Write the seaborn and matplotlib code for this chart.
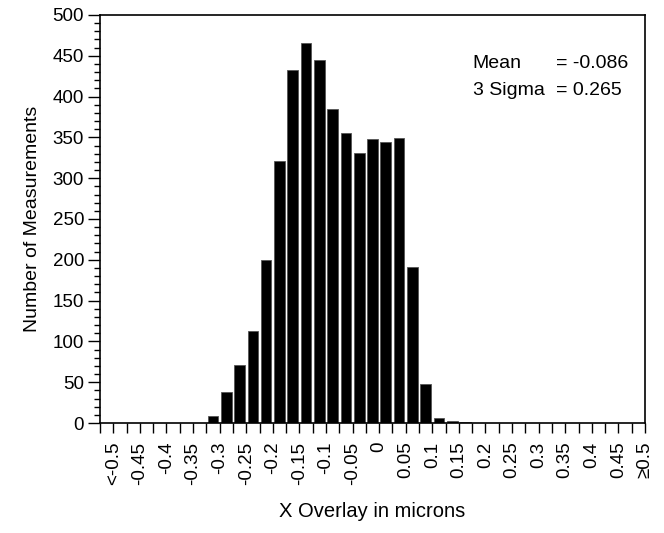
import numpy as np
import pandas as pd
import matplotlib
matplotlib.use("Agg")
import matplotlib.pyplot as plt
from matplotlib.ticker import MultipleLocator, FixedLocator
import seaborn as sns

# ---- data ----
tick_labels = ["<-0.5", "-0.45", "-0.4", "-0.35", "-0.3", "-0.25", "-0.2", "-0.15",
               "-0.1", "-0.05", "0", "0.05", "0.1", "0.15", "0.2", "0.25", "0.3",
               "0.35", "0.4", "0.45", "\u22650.5"]
bin_left = [-0.525, -0.5, -0.475, -0.45, -0.425, -0.4, -0.375, -0.35, -0.325, -0.3,
            -0.275, -0.25, -0.225, -0.2, -0.175, -0.15, -0.125, -0.1, -0.075, -0.05,
            -0.025, 0.0, 0.025, 0.05, 0.075, 0.1, 0.125, 0.15, 0.175, 0.2, 0.225,
            0.25, 0.275, 0.3, 0.325, 0.35, 0.375, 0.4, 0.425, 0.45, 0.475]
counts = [0, 0, 0, 0, 0, 0, 0, 0, 8, 38, 71, 113, 200, 321, 432, 466, 445, 385,
          355, 331, 348, 344, 349, 191, 48, 6, 3, 1, 0, 0, 0, 0, 0, 0, 0, 0, 0,
          0, 0, 0, 0]
stats_names = ["Mean", "3 Sigma"]
stats_values = ["= -0.086", "= 0.265"]

bin_width = 0.025
df = pd.DataFrame({"x": np.array(bin_left) + bin_width / 2, "n": counts})
edges = list(bin_left) + [bin_left[-1] + bin_width]

sns.set_style("ticks")
plt.rcParams["font.family"] = ["Liberation Sans", "DejaVu Sans"]
plt.rcParams["text.color"] = "black"
plt.rcParams["axes.labelcolor"] = "black"
plt.rcParams["xtick.color"] = "black"
plt.rcParams["ytick.color"] = "black"

fig = plt.figure(figsize=(6.64, 5.33), dpi=100)
ax = fig.add_axes([100 / 664, 1 - 423 / 533, 545 / 664, 408 / 533])

sns.histplot(data=df, x="x", weights="n", bins=edges, shrink=0.8,
             color="black", edgecolor="#555555", linewidth=0.6, alpha=1, ax=ax)

ax.set_xlim(edges[0], edges[-1])
ax.set_ylim(0, 500)

# x ticks: every bin edge, labels on every other one
ax.xaxis.set_major_locator(FixedLocator(edges))
xt_labels = []
for i in range(len(edges)):
    xt_labels.append(tick_labels[i // 2] if i % 2 == 1 else "")
ax.set_xticklabels(xt_labels, rotation=90, fontsize=13.5, color="black")
ax.tick_params(axis="x", which="major", length=7.5, width=1, pad=6, direction="out",
               color="black", labelcolor="black")

ax.yaxis.set_major_locator(MultipleLocator(50))
ax.yaxis.set_minor_locator(MultipleLocator(10))
ax.tick_params(axis="y", which="major", length=8.5, width=1, pad=3, labelsize=13.5,
               color="black", labelcolor="black")
ax.tick_params(axis="y", which="minor", length=4, width=1, color="black")

for s in ax.spines.values():
    s.set_visible(True)
    s.set_color("black")
    s.set_linewidth(1.2)

ax.set_xlabel("X Overlay in microns", fontsize=14.5, labelpad=12, color="black")
ax.set_ylabel("Number of Measurements", fontsize=14, labelpad=8, color="black")

ys = [0.882, 0.816]
for name, val, y in zip(stats_names, stats_values, ys):
    ax.text(0.684, y, name, transform=ax.transAxes, fontsize=14, va="center",
            ha="left", color="black")
    ax.text(0.836, y, val, transform=ax.transAxes, fontsize=14, va="center",
            ha="left", color="black")

fig.savefig("out.png", dpi=100)
